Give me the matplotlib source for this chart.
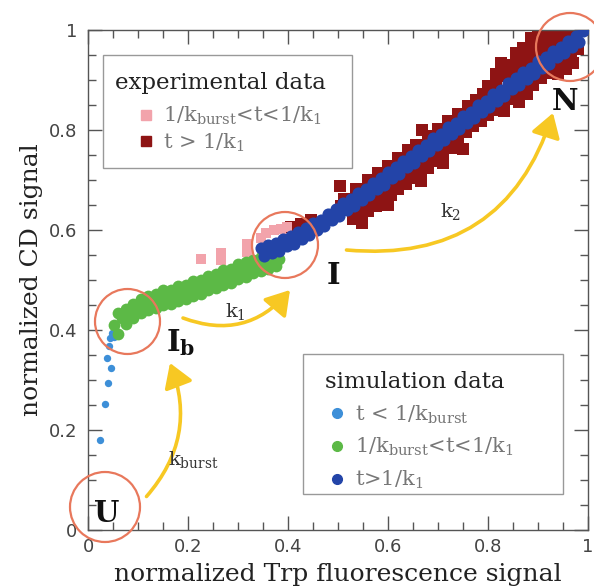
import matplotlib
matplotlib.use('Agg')
import matplotlib.pyplot as plt
from matplotlib.patches import Circle, FancyArrowPatch, Rectangle
from matplotlib.lines import Line2D

plt.rcParams['mathtext.fontset'] = 'dejavuserif'

# ---------------- data ----------------
# simulation, t < 1/k_burst (light blue)
sim_burst_x = [0.024, 0.034, 0.040, 0.046, 0.038, 0.042, 0.044, 0.048, 0.052]
sim_burst_y = [0.180, 0.252, 0.294, 0.324, 0.344, 0.368, 0.384, 0.394, 0.386]

# simulation, 1/k_burst < t < 1/k_1 (green)
sim_mid_x = [0.060, 0.075, 0.090, 0.105, 0.120, 0.135, 0.150, 0.165, 0.180, 0.195, 0.210,
             0.225, 0.240, 0.255, 0.270, 0.285, 0.300, 0.315, 0.330, 0.345, 0.360, 0.375,
             0.052, 0.068, 0.083, 0.098, 0.113, 0.128, 0.143, 0.158, 0.173, 0.188, 0.203,
             0.218, 0.233, 0.248, 0.263, 0.278, 0.293, 0.308, 0.323, 0.338, 0.353, 0.368, 0.382,
             0.060, 0.075, 0.090, 0.105, 0.120, 0.135, 0.150, 0.165, 0.180, 0.195, 0.210,
             0.225, 0.240, 0.255, 0.270, 0.285, 0.300, 0.315, 0.330, 0.345, 0.360, 0.375]
sim_mid_y = [0.434, 0.442, 0.452, 0.463, 0.468, 0.473, 0.480, 0.481, 0.489, 0.491, 0.498,
             0.500, 0.509, 0.513, 0.520, 0.523, 0.532, 0.536, 0.541, 0.547, 0.550, 0.553,
             0.410, 0.424, 0.432, 0.446, 0.450, 0.458, 0.460, 0.467, 0.469, 0.475, 0.478,
             0.486, 0.489, 0.497, 0.501, 0.508, 0.512, 0.520, 0.524, 0.531, 0.533, 0.540, 0.543,
             0.393, 0.412, 0.424, 0.435, 0.441, 0.444, 0.450, 0.453, 0.458, 0.462, 0.468,
             0.472, 0.480, 0.484, 0.490, 0.495, 0.503, 0.507, 0.514, 0.518, 0.523, 0.528]

# simulation, t > 1/k_1 (dark blue)
sim_late_x = [0.345, 0.360, 0.375, 0.390, 0.405, 0.420, 0.435, 0.450, 0.465, 0.480, 0.495,
              0.510, 0.525, 0.540, 0.555, 0.570, 0.585, 0.600, 0.615, 0.630, 0.645, 0.660,
              0.675, 0.690, 0.705, 0.720, 0.735, 0.750, 0.765, 0.780, 0.795, 0.810, 0.825,
              0.840, 0.855, 0.870, 0.885, 0.900, 0.915, 0.930, 0.945, 0.960, 0.975, 0.990,
              0.352, 0.367, 0.382, 0.397, 0.412, 0.427, 0.442, 0.457, 0.472, 0.487, 0.502,
              0.517, 0.532, 0.547, 0.562, 0.577, 0.592, 0.607, 0.622, 0.637, 0.652, 0.667,
              0.682, 0.697, 0.712, 0.727, 0.742, 0.757, 0.772, 0.787, 0.802, 0.817, 0.832,
              0.847, 0.862, 0.877, 0.892, 0.907, 0.922, 0.937, 0.952, 0.967, 0.982]
sim_late_y = [0.564, 0.571, 0.574, 0.582, 0.588, 0.597, 0.604, 0.614, 0.621, 0.633, 0.642,
              0.654, 0.662, 0.674, 0.683, 0.695, 0.704, 0.717, 0.726, 0.739, 0.748, 0.761,
              0.770, 0.784, 0.793, 0.806, 0.815, 0.828, 0.837, 0.850, 0.859, 0.872, 0.881,
              0.895, 0.904, 0.916, 0.925, 0.938, 0.946, 0.958, 0.967, 0.979, 0.988, 0.998,
              0.548, 0.555, 0.559, 0.568, 0.573, 0.583, 0.590, 0.600, 0.608, 0.620, 0.629,
              0.641, 0.649, 0.661, 0.670, 0.682, 0.691, 0.704, 0.713, 0.726, 0.735, 0.748,
              0.758, 0.771, 0.780, 0.793, 0.802, 0.815, 0.824, 0.837, 0.846, 0.859, 0.869,
              0.882, 0.891, 0.903, 0.912, 0.925, 0.933, 0.946, 0.954, 0.967, 0.977]

# experiment, 1/k_burst < t < 1/k_1 (pink squares)
exp_mid_x = [0.226, 0.266, 0.266, 0.318, 0.318, 0.345, 0.356, 0.372, 0.386, 0.398]
exp_mid_y = [0.542, 0.541, 0.555, 0.556, 0.572, 0.585, 0.595, 0.600, 0.603, 0.606]

# experiment, t > 1/k_1 (dark red squares)
exp_late_x = [0.405, 0.425, 0.445, 0.505, 0.512, 0.504, 0.535, 0.560, 0.580, 0.600, 0.620,
              0.640, 0.655, 0.668, 0.680, 0.700, 0.720, 0.740, 0.760, 0.775, 0.790, 0.800,
              0.800, 0.815, 0.815, 0.825, 0.825, 0.840, 0.840, 0.855, 0.855, 0.855, 0.870,
              0.870, 0.870, 0.885, 0.885, 0.885, 0.900, 0.900, 0.900, 0.915, 0.915, 0.915,
              0.930, 0.930, 0.945, 0.945, 0.960, 0.960, 0.975, 0.990,
              0.530, 0.530, 0.545, 0.545, 0.560, 0.560, 0.575, 0.575, 0.590, 0.590, 0.605,
              0.605, 0.620, 0.620, 0.635, 0.635, 0.650, 0.650, 0.665, 0.665, 0.680, 0.680,
              0.695, 0.695, 0.710, 0.710, 0.725, 0.725, 0.740, 0.755, 0.770, 0.785, 0.800,
              0.815, 0.830, 0.845, 0.860, 0.875, 0.890, 0.905, 0.920, 0.935, 0.950, 0.965,
              0.980, 0.940, 0.955, 0.970,
              0.548, 0.600, 0.665, 0.710, 0.750, 0.832, 0.862, 0.878]
exp_late_y = [0.606, 0.612, 0.620, 0.648, 0.662, 0.688, 0.682, 0.700, 0.715, 0.728, 0.745,
              0.760, 0.770, 0.800, 0.788, 0.803, 0.818, 0.833, 0.848, 0.860, 0.872, 0.888,
              0.878, 0.912, 0.892, 0.935, 0.915, 0.930, 0.908, 0.955, 0.935, 0.918, 0.965,
              0.945, 0.928, 0.985, 0.962, 0.940, 0.995, 0.972, 0.950, 0.993, 0.975, 0.958,
              0.995, 0.972, 0.995, 0.980, 0.998, 0.988, 0.998, 1.000,
              0.630, 0.622, 0.642, 0.628, 0.652, 0.638, 0.662, 0.648, 0.673, 0.660, 0.685,
              0.670, 0.695, 0.682, 0.708, 0.692, 0.718, 0.705, 0.730, 0.712, 0.740, 0.725,
              0.752, 0.738, 0.762, 0.750, 0.772, 0.765, 0.785, 0.797, 0.808, 0.818, 0.830,
              0.840, 0.852, 0.862, 0.872, 0.885, 0.890, 0.905, 0.915, 0.925, 0.938, 0.950,
              0.962, 0.912, 0.922, 0.935,
              0.614, 0.650, 0.698, 0.735, 0.762, 0.838, 0.856, 0.872]

# state markers (circles + bold labels)
state_names = ['U', r'$\mathbf{I_b}$', 'I', 'N']
circle_x = [0.034, 0.079, 0.394, 0.964]
circle_y = [0.046, 0.417, 0.570, 0.966]
circle_r = [0.070, 0.065, 0.066, 0.068]
name_x = [0.038, 0.185, 0.490, 0.954]
name_y = [0.032, 0.375, 0.510, 0.857]

# rate arrows
rate_names = [r'k$_{\mathrm{burst}}$', r'k$_1$', r'k$_2$']
arrow_start = [(0.117, 0.067), (0.190, 0.424), (0.517, 0.560)]
arrow_end = [(0.164, 0.334), (0.404, 0.480), (0.930, 0.834)]
arrow_rad = [0.30, 0.35, 0.40]
rate_x = [0.210, 0.294, 0.726]
rate_y = [0.140, 0.436, 0.638]

# labels
legend_exp_labels = [r'1/k$_{\mathrm{burst}}$<t<1/k$_1$', r't > 1/k$_1$']
legend_sim_labels = [r't < 1/k$_{\mathrm{burst}}$', r'1/k$_{\mathrm{burst}}$<t<1/k$_1$', r't>1/k$_1$']
xtick_vals = [0, 0.2, 0.4, 0.6, 0.8, 1.0]
xtick_labels = ['0', '0.2', '0.4', '0.6', '0.8', '1']

# ---------------- colors ----------------
c_lightblue = '#3d8fd8'
c_green = '#5cb946'
c_blue = '#2344a8'
c_pink = '#f2a3ab'
c_red = '#8e1414'
c_circle = '#e8785c'
c_arrow = '#f7c823'

SERIF = 'DejaVu Serif'

fig = plt.figure(figsize=(5.94, 5.87), dpi=100)
ax = fig.add_axes([88 / 594, 57 / 587, 500 / 594, 500 / 587])

ax.scatter(exp_late_x, exp_late_y, s=64, marker='s', color=c_red, linewidths=0, zorder=2)
ax.scatter(exp_mid_x, exp_mid_y, s=46, marker='s', color=c_pink, linewidths=0, zorder=2)
ax.scatter(sim_burst_x, sim_burst_y, s=28, marker='o', color=c_lightblue, linewidths=0, zorder=3)
ax.scatter(sim_mid_x, sim_mid_y, s=72, marker='o', color=c_green, linewidths=0, zorder=3)
ax.scatter(sim_late_x, sim_late_y, s=76, marker='o', color=c_blue, linewidths=0, zorder=4)

for cx, cy, r in zip(circle_x, circle_y, circle_r):
    ax.add_patch(Circle((cx, cy), r, fill=False, edgecolor=c_circle, lw=1.6,
                        clip_on=False, zorder=6))

for name, nx, ny in zip(state_names, name_x, name_y):
    ax.text(nx, ny, name, fontsize=21, fontweight='bold', family=SERIF, color='#111',
            ha='center', va='center', zorder=7)

for a, b, rad in zip(arrow_start, arrow_end, arrow_rad):
    ax.add_patch(FancyArrowPatch(a, b, connectionstyle=f'arc3,rad={rad}',
                                 arrowstyle='-|>,head_length=0.8,head_width=0.5',
                                 mutation_scale=18, lw=2.6, color=c_arrow,
                                 shrinkA=0, shrinkB=0, zorder=5))

for name, rx, ry in zip(rate_names, rate_x, rate_y):
    ax.text(rx, ry, name, fontsize=14, family=SERIF, color='#333',
            ha='center', va='center', zorder=7)

# axes styling
ax.set_xlim(0, 1)
ax.set_ylim(0, 1)
ax.set_xticks(xtick_vals)
ax.set_xticklabels(xtick_labels)
ax.set_yticks(xtick_vals)
ax.set_yticklabels(xtick_labels)
ax.set_xticks([i * 0.05 for i in range(21)], minor=True)
ax.set_yticks([i * 0.05 for i in range(21)], minor=True)
ax.tick_params(which='both', direction='in', top=True, right=True, color='#555', width=1)
ax.tick_params(which='major', length=10, labelsize=13, labelcolor='#444')
ax.tick_params(which='minor', length=5.5)
ax.tick_params(axis='x', pad=6)
ax.tick_params(axis='y', pad=8)
for s in ax.spines.values():
    s.set_color('#555')
    s.set_linewidth(1)

ax.set_xlabel('normalized Trp fluorescence signal', family=SERIF, fontsize=18,
              color='#222', labelpad=5)
ax.set_ylabel('normalized CD signal', family=SERIF, fontsize=18, color='#222', labelpad=4)

# legend frames
ax.add_patch(Rectangle((0.030, 0.724), 0.498, 0.226, transform=ax.transAxes,
                       facecolor='white', edgecolor='#999', lw=1, zorder=8, clip_on=False))
ax.add_patch(Rectangle((0.430, 0.072), 0.520, 0.280, transform=ax.transAxes,
                       facecolor='white', edgecolor='#999', lw=1, zorder=8, clip_on=False))

# legends (content)
h_exp = [Line2D([], [], ls='none', marker='s', ms=7, mfc=c_pink, mec=c_pink),
         Line2D([], [], ls='none', marker='s', ms=7, mfc=c_red, mec=c_red)]
leg1 = ax.legend(h_exp, legend_exp_labels, title='experimental data', loc='upper left',
                 bbox_to_anchor=(0.054, 0.917), bbox_transform=ax.transAxes, borderaxespad=0,
                 frameon=False,
                 prop={'family': SERIF, 'size': 15},
                 title_fontproperties={'family': SERIF, 'size': 16.5},
                 alignment='left', handlelength=2.98, handletextpad=-0.67,
                 labelspacing=0.2, borderpad=0)
leg1._legend_box.sep = 15 * 0.55
for t in leg1.get_texts():
    t.set_color('#777')
leg1.get_title().set_color('#222')
leg1.set_zorder(9)
ax.add_artist(leg1)

h_sim = [Line2D([], [], ls='none', marker='o', ms=7, mfc=c_lightblue, mec=c_lightblue),
         Line2D([], [], ls='none', marker='o', ms=7, mfc=c_green, mec=c_green),
         Line2D([], [], ls='none', marker='o', ms=7, mfc=c_blue, mec=c_blue)]
leg2 = ax.legend(h_sim, legend_sim_labels, title='simulation data', loc='upper left',
                 bbox_to_anchor=(0.474, 0.318), bbox_transform=ax.transAxes, borderaxespad=0,
                 frameon=False,
                 prop={'family': SERIF, 'size': 15},
                 title_fontproperties={'family': SERIF, 'size': 16.5},
                 alignment='left', handlelength=1.15, handletextpad=0.29,
                 labelspacing=0.5, borderpad=0)
leg2._legend_box.sep = 15 * 0.5
for t in leg2.get_texts():
    t.set_color('#777')
leg2.get_title().set_color('#222')
leg2.set_zorder(9)

fig.savefig('out.png', dpi=100)
